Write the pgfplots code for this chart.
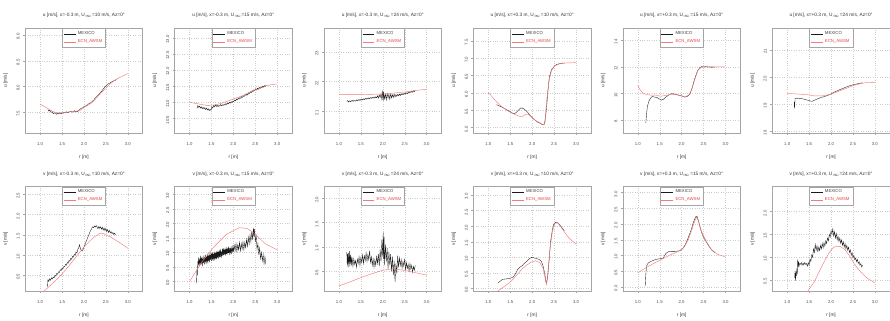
\documentclass[border=0pt]{standalone}
\usepackage{fontspec}
\setmainfont{Liberation Sans}
\usepackage{pgfplots}
\pgfplotsset{compat=1.18}
\usepgfplotslibrary{groupplots}
\definecolor{ecnred}{RGB}{242,125,125}
\definecolor{ecntext}{RGB}{230,70,70}
\definecolor{mex}{RGB}{25,25,25}
\definecolor{frame}{RGB}{165,165,165}
\pgfplotsset{
  rplot/.style={
    scale only axis, width=118pt, height=105pt,
    xmin=0.66, xmax=3.34,
    xtick={1,1.5,2,2.5,3}, xticklabels={1.0,1.5,2.0,2.5,3.0},
    /pgf/number format/assume math mode=true,
    tick align=outside, xtick pos=bottom, ytick pos=left,
    major tick length=2pt,
    tick style={frame, line width=0.3pt},
    axis line style={frame, line width=0.4pt},
    grid=major, major grid style={dotted, gray!40, line width=0.3pt},
    ticklabel style={font=\fontsize{4.3}{5}\selectfont, text=black!70},
    xticklabel style={yshift=-4pt},
    yticklabel style={rotate=90, anchor=south, xshift=-1.5pt},
    title style={font=\fontsize{4.8}{5.5}\selectfont, text=black!80, yshift=1pt},
    label style={font=\fontsize{4.8}{5.5}\selectfont, text=black!80},
    xlabel style={yshift=-2.5pt},
    ylabel style={yshift=2pt},
    xlabel={r [m]},
    legend style={at={(0.5,1)}, anchor=north, draw=frame, line width=0.3pt,
      font=\fontsize{4.3}{5}\selectfont, inner sep=1.2pt, row sep=-0.5pt,
      text=black!75, cells={anchor=west}},
    legend image code/.code={\draw[#1] (0pt,0pt) -- (12pt,0pt);},
  },
  mexline/.style={mex, line width=0.35pt},
  ecnline/.style={ecnred, line width=0.45pt},
}
\newcommand{\leg}{\legend{MEXICO,\textcolor{ecntext}{ECN\_AWSM}}}
\begin{document}
\begin{tikzpicture}
\begin{groupplot}[group style={group size=6 by 2, horizontal sep=32pt, vertical sep=54pt}, rplot]
% ---------- 1: u, x=-0.3, U=10
\nextgroupplot[title={u [m/s], x=-0.3 m, U$_{\infty}$=10 m/s, Az=0°}, ylabel={u [m/s]},
  ymin=7.10, ymax=9.13, ytick={7.5,8,8.5,9}, yticklabels={7.5,8.0,8.5,9.0}]
\addplot[mexline] coordinates {(1.18,7.55)(1.20,7.52)(1.22,7.54)(1.25,7.50)(1.28,7.51)(1.30,7.47)(1.33,7.49)(1.35,7.48)(1.38,7.46)(1.40,7.48)(1.43,7.47)(1.45,7.49)(1.48,7.47)(1.50,7.49)(1.53,7.48)(1.55,7.50)(1.58,7.49)(1.60,7.51)(1.63,7.49)(1.65,7.50)(1.68,7.51)(1.70,7.52)(1.73,7.50)(1.75,7.51)(1.78,7.53)(1.80,7.51)(1.83,7.52)(1.85,7.51)(1.88,7.53)(1.90,7.55)(1.93,7.57)(1.95,7.58)(1.98,7.59)(2.00,7.61)(2.03,7.61)(2.05,7.63)(2.08,7.64)(2.10,7.66)(2.13,7.67)(2.15,7.68)(2.18,7.70)(2.20,7.72)(2.23,7.74)(2.25,7.77)(2.28,7.79)(2.30,7.81)(2.33,7.84)(2.35,7.85)(2.38,7.89)(2.40,7.90)(2.43,7.94)(2.45,7.96)(2.48,7.99)(2.50,8.01)(2.53,8.04)(2.55,8.05)(2.58,8.06)(2.60,8.07)(2.63,8.09)(2.65,8.09)(2.68,8.11)(2.70,8.11)(2.73,8.13)(2.75,8.13)};
\addplot[ecnline] coordinates {(1.0,7.66)(1.1,7.61)(1.2,7.56)(1.3,7.51)(1.4,7.49)(1.5,7.49)(1.7,7.51)(1.9,7.53)(2.0,7.59)(2.1,7.64)(2.2,7.70)(2.3,7.79)(2.4,7.88)(2.5,7.97)(2.6,8.05)(2.7,8.12)(2.8,8.17)(2.9,8.21)(3.0,8.25)};
\leg
% ---------- 2: u, x=-0.3, U=15
\nextgroupplot[title={u [m/s], x=-0.3 m, U$_{\infty}$=15 m/s, Az=0°}, ylabel={u [m/s]},
  ymin=10.05, ymax=13.3, ytick={10.5,11,11.5,12,12.5,13}, yticklabels={10.5,11.0,11.5,12.0,12.5,13.0}]
\addplot[mexline] coordinates {(1.17,10.80)(1.19,10.90)(1.21,10.84)(1.23,10.88)(1.25,10.82)(1.27,10.86)(1.29,10.80)(1.31,10.85)(1.33,10.79)(1.35,10.83)(1.37,10.77)(1.39,10.82)(1.41,10.76)(1.43,10.80)(1.45,10.74)(1.47,10.78)(1.49,10.75)(1.51,10.86)(1.53,10.82)(1.55,10.90)(1.57,10.86)(1.59,10.92)(1.61,10.87)(1.63,10.91)(1.65,10.86)(1.67,10.90)(1.69,10.88)(1.71,10.93)(1.73,10.89)(1.75,10.92)(1.77,10.90)(1.79,10.94)(1.81,10.91)(1.83,10.96)(1.85,10.93)(1.87,10.98)(1.89,10.95)(1.91,11.00)(1.93,10.97)(1.95,11.02)(1.97,10.99)(1.99,11.04)(2.01,11.02)(2.03,11.07)(2.05,11.04)(2.07,11.10)(2.09,11.07)(2.11,11.12)(2.13,11.10)(2.15,11.15)(2.17,11.12)(2.19,11.18)(2.21,11.15)(2.23,11.20)(2.25,11.18)(2.27,11.24)(2.29,11.21)(2.31,11.26)(2.33,11.23)(2.35,11.30)(2.37,11.27)(2.39,11.33)(2.41,11.30)(2.43,11.36)(2.45,11.33)(2.47,11.39)(2.49,11.36)(2.51,11.42)(2.53,11.38)(2.55,11.44)(2.57,11.40)(2.59,11.46)(2.61,11.43)(2.63,11.48)(2.65,11.45)(2.67,11.50)(2.69,11.47)(2.71,11.52)(2.73,11.49)(2.75,11.53)};
\addplot[ecnline] coordinates {(1.0,11.00)(1.2,10.95)(1.4,10.90)(1.6,10.92)(1.8,11.00)(2.0,11.10)(2.2,11.20)(2.4,11.33)(2.6,11.43)(2.8,11.53)(3.0,11.57)};
\leg
% ---------- 3: u, x=-0.3, U=24
\nextgroupplot[title={u [m/s], x=-0.3 m, U$_{\infty}$=24 m/s, Az=0°}, ylabel={u [m/s]},
  ymin=20.27, ymax=23.8, ytick={21,22,23}, yticklabels={21,22,23}]
\addplot[mexline] coordinates {(1.18,21.33)(1.20,21.36)(1.22,21.31)(1.24,21.35)(1.26,21.32)(1.28,21.36)(1.30,21.33)(1.32,21.37)(1.34,21.33)(1.36,21.36)(1.38,21.34)(1.40,21.38)(1.42,21.35)(1.44,21.39)(1.46,21.36)(1.48,21.40)(1.50,21.37)(1.52,21.41)(1.54,21.38)(1.56,21.42)(1.58,21.39)(1.60,21.43)(1.62,21.40)(1.64,21.44)(1.66,21.41)(1.68,21.45)(1.70,21.42)(1.72,21.46)(1.74,21.43)(1.76,21.47)(1.78,21.44)(1.80,21.48)(1.82,21.44)(1.84,21.49)(1.86,21.45)(1.88,21.52)(1.90,21.44)(1.92,21.55)(1.94,21.46)(1.96,21.60)(1.98,21.40)(2.00,21.70)(2.01,21.35)(2.02,21.62)(2.04,21.42)(2.06,21.58)(2.08,21.38)(2.10,21.60)(2.12,21.44)(2.14,21.57)(2.16,21.40)(2.18,21.59)(2.20,21.45)(2.22,21.56)(2.24,21.46)(2.26,21.58)(2.28,21.48)(2.30,21.56)(2.32,21.50)(2.34,21.57)(2.36,21.52)(2.38,21.58)(2.40,21.53)(2.42,21.59)(2.44,21.55)(2.46,21.60)(2.48,21.56)(2.50,21.61)(2.52,21.58)(2.54,21.62)(2.56,21.59)(2.58,21.64)(2.60,21.61)(2.62,21.66)(2.64,21.63)(2.66,21.67)(2.68,21.64)(2.70,21.69)(2.72,21.66)(2.74,21.70)};
\addplot[ecnline] coordinates {(1.0,21.56)(1.5,21.56)(2.0,21.58)(2.25,21.61)(2.5,21.65)(2.75,21.70)(3.0,21.74)};
\leg
% ---------- 4: u, x=+0.3, U=10
\nextgroupplot[title={u [m/s], x=+0.3 m, U$_{\infty}$=10 m/s, Az=0°}, ylabel={u [m/s]},
  ymin=4.85, ymax=7.86, ytick={5,5.5,6,6.5,7,7.5}, yticklabels={5.0,5.5,6.0,6.5,7.0,7.5}]
\addplot[mexline] coordinates {(1.185,5.66)(1.26,5.62)(1.33,5.58)(1.41,5.52)(1.48,5.47)(1.56,5.41)(1.61,5.41)(1.67,5.48)(1.73,5.56)(1.78,5.56)(1.83,5.52)(1.89,5.45)(1.96,5.34)(2.04,5.24)(2.11,5.17)(2.19,5.12)(2.24,5.08)(2.28,5.10)(2.32,5.48)(2.36,6.07)(2.39,6.45)(2.44,6.67)(2.50,6.76)(2.56,6.82)(2.63,6.84)(2.70,6.86)(2.74,6.86)};
\addplot[ecnline] coordinates {(1.0,6.02)(1.11,5.85)(1.22,5.70)(1.33,5.58)(1.44,5.48)(1.56,5.41)(1.67,5.34)(1.76,5.31)(1.83,5.37)(1.90,5.39)(1.98,5.31)(2.07,5.21)(2.17,5.14)(2.24,5.08)(2.29,5.12)(2.33,5.78)(2.38,6.31)(2.44,6.65)(2.52,6.78)(2.63,6.84)(2.78,6.86)(3.0,6.87)};
\leg
% ---------- 5: u, x=+0.3, U=15
\nextgroupplot[title={u [m/s], x=+0.3 m, U$_{\infty}$=15 m/s, Az=0°}, ylabel={u [m/s]},
  ymin=7.05, ymax=14.9, ytick={8,10,12,14}, yticklabels={8,10,12,14}]
\addplot[mexline] coordinates {(1.185,7.80)(1.20,8.43)(1.22,9.05)(1.26,9.48)(1.30,9.68)(1.33,9.78)(1.39,9.73)(1.44,9.70)(1.50,9.58)(1.54,9.50)(1.59,9.58)(1.64,9.73)(1.70,9.88)(1.76,9.98)(1.81,9.98)(1.87,9.93)(1.93,9.88)(2.00,9.83)(2.07,9.73)(2.13,9.78)(2.19,9.98)(2.24,10.43)(2.30,11.13)(2.36,11.68)(2.41,11.93)(2.46,12.03)(2.52,12.03)(2.59,12.00)(2.67,11.98)(2.74,11.98)};
\addplot[ecnline] coordinates {(1.0,10.63)(1.05,10.30)(1.11,10.05)(1.19,9.93)(1.30,9.88)(1.41,9.88)(1.52,9.80)(1.63,9.85)(1.74,9.93)(1.85,9.93)(1.96,9.85)(2.07,9.75)(2.16,9.88)(2.22,10.23)(2.30,11.05)(2.37,11.73)(2.44,11.95)(2.56,12.00)(2.81,12.00)(3.0,12.00)};
\leg
% ---------- 6: u, x=+0.3, U=24
\nextgroupplot[title={u [m/s], x=+0.3 m, U$_{\infty}$=24 m/s, Az=0°}, ylabel={u [m/s]},
  ymin=17.95, ymax=21.8, ytick={18,19,20,21}, yticklabels={18,19,20,21}]
\addplot[mexline] coordinates {(1.16,18.84)(1.165,19.09)(1.17,18.90)(1.18,19.21)(1.22,19.23)(1.26,19.20)(1.31,19.22)(1.36,19.20)(1.42,19.17)(1.47,19.15)(1.53,19.12)(1.57,19.11)(1.62,19.15)(1.69,19.20)(1.77,19.25)(1.84,19.28)(1.91,19.32)(1.99,19.37)(2.06,19.44)(2.13,19.49)(2.20,19.54)(2.28,19.59)(2.35,19.64)(2.42,19.68)(2.50,19.72)(2.57,19.74)(2.64,19.77)(2.72,19.79)};
\addplot[ecnline] coordinates {(1.0,19.40)(1.22,19.38)(1.44,19.36)(1.62,19.31)(1.80,19.31)(1.99,19.37)(2.17,19.48)(2.35,19.59)(2.53,19.70)(2.72,19.78)(2.82,19.80)(3.0,19.81)};
\leg
% ---------- 7: v, x=-0.3, U=10
\nextgroupplot[title={v [m/s], x=-0.3 m, U$_{\infty}$=10 m/s, Az=0°}, ylabel={v [m/s]},
  ymin=0.11, ymax=2.69, ytick={0.5,1,1.5,2,2.5}, yticklabels={0.5,1.0,1.5,2.0,2.5}]
\addplot[mexline] coordinates {(1.17,0.22)(1.18,0.40)(1.20,0.35)(1.22,0.42)(1.24,0.38)(1.26,0.44)(1.28,0.41)(1.30,0.46)(1.32,0.44)(1.34,0.50)(1.36,0.48)(1.38,0.55)(1.40,0.53)(1.42,0.59)(1.44,0.57)(1.46,0.64)(1.48,0.62)(1.50,0.68)(1.52,0.66)(1.54,0.72)(1.56,0.71)(1.58,0.77)(1.60,0.75)(1.62,0.82)(1.64,0.80)(1.66,0.87)(1.68,0.85)(1.70,0.92)(1.72,0.90)(1.74,0.97)(1.76,0.95)(1.78,1.02)(1.80,1.00)(1.82,1.08)(1.84,1.05)(1.86,1.14)(1.88,1.18)(1.90,1.26)(1.92,1.16)(1.94,1.12)(1.96,1.10)(1.98,1.14)(2.00,1.20)(2.02,1.25)(2.04,1.31)(2.06,1.36)(2.08,1.42)(2.10,1.47)(2.12,1.52)(2.14,1.58)(2.16,1.62)(2.18,1.66)(2.20,1.70)(2.22,1.68)(2.24,1.72)(2.26,1.69)(2.28,1.73)(2.30,1.70)(2.32,1.65)(2.34,1.71)(2.36,1.66)(2.38,1.70)(2.40,1.64)(2.42,1.69)(2.44,1.62)(2.46,1.67)(2.48,1.60)(2.50,1.66)(2.52,1.58)(2.54,1.63)(2.56,1.56)(2.58,1.61)(2.60,1.55)(2.62,1.58)(2.64,1.53)(2.66,1.56)(2.68,1.51)(2.70,1.54)(2.72,1.50)};
\addplot[ecnline] coordinates {(1.0,0.02)(1.2,0.22)(1.4,0.42)(1.6,0.66)(1.8,0.93)(2.0,1.20)(2.2,1.42)(2.35,1.53)(2.45,1.53)(2.6,1.45)(2.8,1.32)(3.0,1.17)};
\leg
% ---------- 8: v, x=-0.3, U=15
\nextgroupplot[title={v [m/s], x=-0.3 m, U$_{\infty}$=15 m/s, Az=0°}, ylabel={v [m/s]},
  ymin=-0.35, ymax=3.27, ytick={0,0.5,1,1.5,2,2.5,3}, yticklabels={0.0,0.5,1.0,1.5,2.0,2.5,3.0}]
\addplot[mexline] coordinates {(1.16,-0.08)(1.17,0.40)(1.18,0.20)(1.19,0.70)(1.20,0.55)(1.21,0.82)(1.22,0.50)(1.23,0.78)(1.24,0.58)(1.25,0.88)(1.26,0.55)(1.27,0.80)(1.28,0.60)(1.29,0.85)(1.30,0.52)(1.31,0.78)(1.32,0.62)(1.33,0.90)(1.34,0.58)(1.35,0.82)(1.36,0.65)(1.37,0.92)(1.38,0.60)(1.39,0.85)(1.40,0.66)(1.41,0.95)(1.42,0.62)(1.43,0.88)(1.44,0.70)(1.45,0.96)(1.46,0.66)(1.47,0.90)(1.48,0.72)(1.49,1.00)(1.50,0.70)(1.51,0.95)(1.52,0.74)(1.53,1.00)(1.54,0.70)(1.55,0.95)(1.56,0.76)(1.57,1.02)(1.58,0.72)(1.59,0.97)(1.60,0.78)(1.61,1.04)(1.62,0.76)(1.63,1.00)(1.64,0.80)(1.65,1.06)(1.66,0.78)(1.67,1.02)(1.68,0.82)(1.69,1.08)(1.70,0.84)(1.71,1.10)(1.72,0.80)(1.73,1.04)(1.74,0.86)(1.75,1.12)(1.76,0.88)(1.77,1.14)(1.78,0.90)(1.79,1.08)(1.80,0.92)(1.81,1.16)(1.82,0.88)(1.83,1.10)(1.84,0.94)(1.85,1.18)(1.86,0.92)(1.87,1.12)(1.88,0.98)(1.89,1.20)(1.90,0.96)(1.91,1.15)(1.92,0.90)(1.93,1.14)(1.94,0.98)(1.95,1.20)(1.96,0.94)(1.97,1.14)(1.98,1.00)(1.99,1.24)(2.00,1.00)(2.02,1.24)(2.04,1.04)(2.06,1.30)(2.08,1.02)(2.10,1.26)(2.12,1.08)(2.14,1.34)(2.16,1.04)(2.18,1.30)(2.20,1.10)(2.22,1.36)(2.24,1.08)(2.26,1.34)(2.28,1.16)(2.30,1.44)(2.32,1.20)(2.34,1.52)(2.36,1.28)(2.38,1.60)(2.40,1.36)(2.42,1.72)(2.44,1.44)(2.46,1.84)(2.47,1.55)(2.48,1.80)(2.50,1.35)(2.52,1.60)(2.54,1.10)(2.56,1.30)(2.58,0.90)(2.60,1.15)(2.62,0.78)(2.64,1.00)(2.66,0.70)(2.68,0.92)(2.70,0.60)(2.72,0.85)(2.74,0.58)};
\addplot[ecnline] coordinates {(1.0,-0.02)(1.27,0.64)(1.56,1.19)(1.85,1.63)(2.14,1.85)(2.32,1.82)(2.50,1.63)(2.72,1.30)(3.0,1.08)};
\leg
% ---------- 9: v, x=-0.3, U=24
\nextgroupplot[title={v [m/s], x=-0.3 m, U$_{\infty}$=24 m/s, Az=0°}, ylabel={v [m/s]},
  ymin=0.09, ymax=2.24, ytick={0.5,1,1.5,2}, yticklabels={0.5,1.0,1.5,2.0}]
\addplot[mexline] coordinates {(1.18,0.90)(1.19,0.62)(1.20,0.85)(1.21,0.58)(1.22,0.88)(1.23,0.65)(1.24,0.92)(1.25,0.60)(1.26,0.84)(1.27,0.66)(1.28,0.80)(1.29,0.62)(1.30,0.78)(1.32,0.60)(1.34,0.76)(1.36,0.64)(1.38,0.72)(1.40,0.58)(1.42,0.75)(1.44,0.66)(1.46,0.80)(1.48,0.62)(1.50,0.78)(1.52,0.68)(1.54,0.84)(1.56,0.66)(1.58,0.82)(1.60,0.72)(1.62,0.88)(1.64,0.70)(1.66,0.84)(1.68,0.74)(1.70,0.92)(1.72,0.68)(1.74,0.80)(1.76,0.62)(1.78,0.76)(1.80,0.58)(1.82,0.74)(1.84,0.62)(1.86,0.80)(1.88,0.66)(1.90,0.86)(1.92,0.60)(1.94,0.95)(1.96,0.70)(1.98,1.15)(2.00,0.80)(2.01,1.30)(2.02,0.75)(2.03,1.20)(2.04,0.62)(2.06,1.05)(2.08,0.70)(2.10,0.98)(2.12,0.55)(2.14,0.90)(2.16,0.62)(2.18,0.85)(2.20,0.50)(2.22,0.80)(2.24,0.42)(2.26,0.72)(2.28,0.28)(2.30,0.66)(2.32,0.45)(2.34,0.82)(2.36,0.58)(2.38,0.78)(2.40,0.62)(2.42,0.74)(2.44,0.56)(2.46,0.70)(2.48,0.60)(2.50,0.76)(2.52,0.52)(2.54,0.68)(2.56,0.56)(2.58,0.64)(2.60,0.50)(2.62,0.66)(2.64,0.54)(2.66,0.62)(2.68,0.48)(2.70,0.60)(2.72,0.52)(2.74,0.62)};
\addplot[ecnline] coordinates {(1.0,0.20)(1.25,0.28)(1.5,0.37)(1.75,0.45)(2.0,0.52)(2.2,0.55)(2.4,0.53)(2.6,0.50)(2.8,0.46)(3.0,0.42)};
\leg
% ---------- 10: v, x=+0.3, U=10
\nextgroupplot[title={v [m/s], x=+0.3 m, U$_{\infty}$=10 m/s, Az=0°}, ylabel={v [m/s]},
  ymin=-0.09, ymax=3.27, ytick={0,0.5,1,1.5,2,2.5,3}, yticklabels={0.0,0.5,1.0,1.5,2.0,2.5,3.0}]
\addplot[mexline] coordinates {(1.22,0.18)(1.27,0.23)(1.32,0.29)(1.38,0.30)(1.43,0.31)(1.51,0.33)(1.56,0.36)(1.61,0.45)(1.67,0.61)(1.72,0.68)(1.77,0.73)(1.83,0.82)(1.89,0.89)(1.94,0.96)(1.99,1.00)(2.05,0.98)(2.10,0.96)(2.16,0.93)(2.21,0.87)(2.25,0.71)(2.29,0.45)(2.32,0.15)(2.35,0.34)(2.39,0.98)(2.42,1.51)(2.46,1.88)(2.49,2.06)(2.54,2.13)(2.59,2.10)(2.64,2.02)(2.70,1.91)(2.73,1.85)};
\addplot[ecnline] coordinates {(1.0,-0.30)(1.32,0.02)(1.43,0.13)(1.54,0.26)(1.65,0.43)(1.76,0.61)(1.87,0.74)(1.97,0.84)(2.08,0.89)(2.18,0.82)(2.25,0.64)(2.30,0.29)(2.33,0.13)(2.36,0.55)(2.41,1.30)(2.46,1.83)(2.52,2.10)(2.59,2.10)(2.70,1.88)(2.81,1.67)(2.91,1.53)(3.0,1.42)};
\leg
% ---------- 11: v, x=+0.3, U=15
\nextgroupplot[title={v [m/s], x=+0.3 m, U$_{\infty}$=15 m/s, Az=0°}, ylabel={v [m/s]},
  ymin=-0.14, ymax=3.19, ytick={0,0.5,1,1.5,2,2.5,3}, yticklabels={0.0,0.5,1.0,1.5,2.0,2.5,3.0}]
\addplot[mexline] coordinates {(1.17,0.02)(1.18,0.29)(1.19,0.51)(1.21,0.70)(1.24,0.76)(1.30,0.81)(1.37,0.85)(1.44,0.88)(1.52,0.90)(1.58,0.91)(1.61,0.99)(1.64,1.06)(1.70,1.12)(1.78,1.13)(1.85,1.13)(1.93,1.14)(2.00,1.18)(2.06,1.28)(2.11,1.42)(2.16,1.60)(2.22,1.82)(2.27,2.06)(2.32,2.23)(2.35,2.25)(2.38,2.12)(2.43,1.85)(2.48,1.63)(2.56,1.44)(2.63,1.28)(2.70,1.15)(2.76,1.09)};
\addplot[ecnline] coordinates {(1.0,0.45)(1.07,0.51)(1.19,0.61)(1.33,0.72)(1.48,0.83)(1.63,0.94)(1.78,1.04)(1.93,1.13)(2.04,1.24)(2.15,1.49)(2.24,1.85)(2.30,2.10)(2.34,2.23)(2.39,2.06)(2.46,1.74)(2.56,1.45)(2.67,1.20)(2.81,1.04)(3.0,0.95)};
\leg
% ---------- 12: v, x=+0.3, U=24
\nextgroupplot[title={v [m/s], x=+0.3 m, U$_{\infty}$=24 m/s, Az=0°}, ylabel={v [m/s]},
  ymin=0.25, ymax=2.55, ytick={0.5,1,1.5,2}, yticklabels={0.5,1.0,1.5,2.0}]
\addplot[mexline] coordinates {(1.17,0.55)(1.18,0.70)(1.19,0.48)(1.20,0.66)(1.21,0.58)(1.22,0.75)(1.23,0.62)(1.24,0.95)(1.25,0.78)(1.26,0.90)(1.27,0.80)(1.28,0.86)(1.30,0.84)(1.32,0.88)(1.34,0.82)(1.36,0.87)(1.38,0.83)(1.40,0.88)(1.42,0.84)(1.44,0.86)(1.46,0.80)(1.48,0.88)(1.50,0.82)(1.52,0.96)(1.54,0.90)(1.56,1.05)(1.58,1.00)(1.60,1.18)(1.62,1.10)(1.64,1.28)(1.66,1.15)(1.68,1.25)(1.70,1.12)(1.72,1.22)(1.74,1.14)(1.76,1.26)(1.78,1.18)(1.80,1.30)(1.82,1.20)(1.84,1.32)(1.86,1.24)(1.88,1.36)(1.90,1.30)(1.92,1.42)(1.94,1.36)(1.96,1.50)(1.98,1.44)(2.00,1.58)(2.02,1.50)(2.04,1.62)(2.06,1.46)(2.08,1.56)(2.10,1.42)(2.12,1.52)(2.14,1.38)(2.16,1.46)(2.18,1.34)(2.20,1.42)(2.22,1.30)(2.24,1.38)(2.26,1.26)(2.28,1.34)(2.30,1.22)(2.32,1.30)(2.34,1.18)(2.36,1.26)(2.38,1.15)(2.40,1.22)(2.42,1.10)(2.44,1.16)(2.46,1.04)(2.48,1.10)(2.50,0.98)(2.52,1.04)(2.54,0.94)(2.56,0.98)(2.58,0.90)(2.60,0.95)(2.62,0.86)(2.64,0.90)(2.66,0.82)(2.68,0.86)(2.70,0.78)(2.72,0.82)};
\addplot[ecnline] coordinates {(1.0,-0.50)(1.30,0.05)(1.47,0.25)(1.62,0.46)(1.73,0.68)(1.84,0.89)(1.95,1.09)(2.05,1.21)(2.13,1.24)(2.22,1.23)(2.31,1.17)(2.42,1.03)(2.53,0.85)(2.67,0.68)(2.82,0.54)(3.0,0.43)};
\leg
\end{groupplot}
\path ([yshift=10pt]current bounding box.north) -- (current bounding box.south);
\end{tikzpicture}
\end{document}
